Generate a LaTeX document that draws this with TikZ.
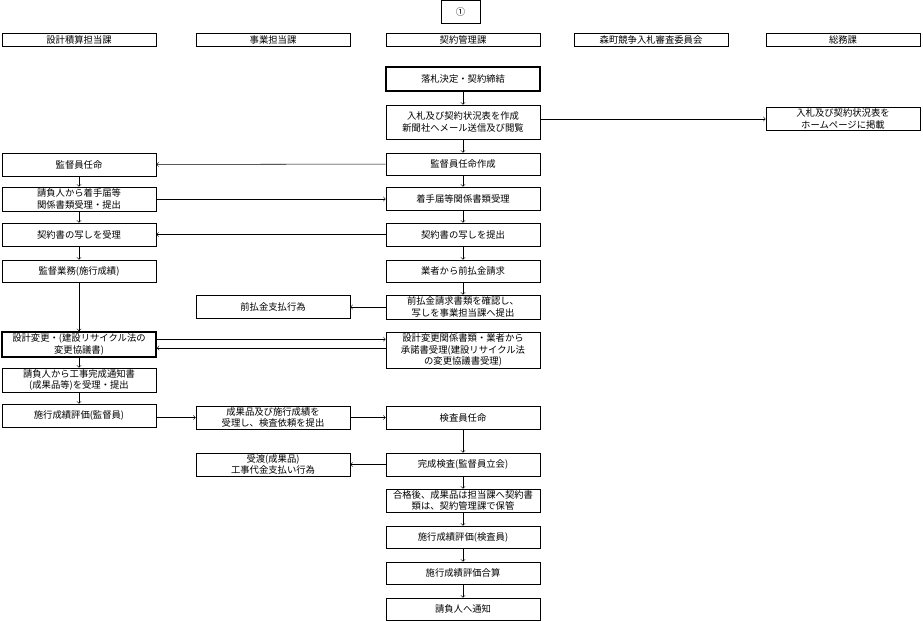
\documentclass[tikz,border=0pt]{standalone}
\usepackage{fontspec}
\setmainfont{Noto Sans CJK JP}
\begin{document}
\begin{tikzpicture}[x=0.75pt, y=-0.75pt, font=\fontsize{7}{8.4}\selectfont,
  box/.style={draw, thin, minimum width=115.5pt, align=center, inner sep=1pt},
  head/.style={box, minimum height=9.75pt},
  key/.style={line width=1.3pt},
  flow/.style={->, >=To}]
  \useasboundingbox (0,0) rectangle (923,621);

  \node (start) at (460.5,11.5) [draw, minimum width=29pt, minimum height=17pt] {①};

  % column heads
  \node (h-design) at (79,40) [head] {設計積算担当課};
  \node (h-project) at (273,40) [head] {事業担当課};
  \node (h-contract) at (463,40) [head] {契約管理課};
  \node (h-committee) at (651,40) [head] {森町競争入札審査委員会};
  \node (h-general) at (843,40) [head] {総務課};

  % contract section
  \node (award) at (463,79) [box, key, minimum height=18pt] {落札決定・契約締結};
  \node (status) at (463,122) [box, minimum height=25.5pt] {入札及び契約状況表を作成\\新聞社へメール送信及び閲覧};
  \node (appoint-doc) at (463,164) [box, minimum height=16.5pt] {監督員任命作成};
  \node (start-recv) at (463,198.5) [box, minimum height=17.25pt] {着手届等関係書類受理};
  \node (copy-send) at (463,234.5) [box, minimum height=17.25pt] {契約書の写しを提出};
  \node (advance-req) at (463,271) [box, minimum height=16.5pt] {業者から前払金請求};
  \node (advance-chk) at (463,307) [box, minimum height=18pt] {前払金請求書類を確認し、\\写しを事業担当課へ提出};
  \node (change-recv) at (463,350) [box, minimum height=27pt] {設計変更関係書類・業者から\\承諾書受理(建設リサイクル法\\の変更協議書受理)};
  \node (inspector) at (463,417.5) [box, minimum height=17.25pt] {検査員任命};
  \node (inspect) at (463,464.5) [box, minimum height=17.25pt] {完成検査(監督員立会)};
  \node (store) at (463,500.5) [box, minimum height=17.25pt] {合格後、成果品は担当課へ契約書\\類は、契約管理課で保管};
  \node (eval-insp) at (463,537) [box, minimum height=16.5pt] {施行成績評価(検査員)};
  \node (eval-sum) at (463,573) [box, minimum height=16.5pt] {施行成績評価合算};
  \node (notify) at (463,609) [box, minimum height=16.5pt] {請負人へ通知};

  % design section
  \node (appoint) at (79,164.5) [box, minimum height=17.25pt] {監督員任命};
  \node (start-doc) at (79,199) [box, minimum height=18pt] {請負人から着手届等\\関係書類受理・提出};
  \node (copy-recv) at (79,234.5) [box, minimum height=17.25pt] {契約書の写しを受理};
  \node (supervise) at (79,271) [box, minimum height=16.5pt] {監督業務(施行成績)};
  \node (change) at (79,344.5) [box, key, minimum height=18.75pt] {設計変更・(建設リサイクル法の\\変更協議書)};
  \node (complete) at (79,380) [box, minimum height=18pt] {請負人から工事完成通知書\\(成果品等)を受理・提出};
  \node (eval-sup) at (79,415.5) [box, minimum height=17.25pt] {施行成績評価(監督員)};

  % project section
  \node (advance-pay) at (273,306.5) [box, minimum height=17.25pt] {前払金支払行為};
  \node (request) at (273,417.5) [box, minimum height=17.25pt] {成果品及び施行成績を\\受理し、検査依頼を提出};
  \node (handover) at (273,464.5) [box, minimum height=17.25pt] {受渡(成果品)\\工事代金支払い行為};

  % general affairs
  \node (publish) at (843,119) [box, minimum height=16.5pt] {入札及び契約状況表を\\ホームページに掲載};

  % vertical flow
  \foreach \a/\b in {award/status, status/appoint-doc, appoint-doc/start-recv,
    start-recv/copy-send, copy-send/advance-req, advance-req/advance-chk,
    inspector/inspect, inspect/store, store/eval-insp, eval-insp/eval-sum,
    eval-sum/notify, appoint/start-doc, start-doc/copy-recv, copy-recv/supervise,
    supervise/change, change/complete, complete/eval-sup}
    \draw[flow] (\a) -- (\b);

  % horizontal flow
  \draw[flow] (status.east |- publish) -- (publish);
  \draw[flow] (appoint-doc) -- (appoint);
  \draw[flow] (start-doc) -- (start-doc -| start-recv.west);
  \draw[flow] (copy-send) -- (copy-recv);
  \draw[flow] (advance-chk) -- (advance-chk -| advance-pay.east);
  \draw[flow] ([yshift=4pt]change.east) -- ([yshift=4pt]change.east -| change-recv.west);
  \draw[flow] ([yshift=-2.6pt]change.east -| change-recv.west) -- ([yshift=-2.6pt]change.east);
  \draw[flow] (eval-sup.east |- request) -- (request);
  \draw[flow] (request) -- (inspector);
  \draw[flow] (inspect) -- (handover);
\end{tikzpicture}
\end{document}
